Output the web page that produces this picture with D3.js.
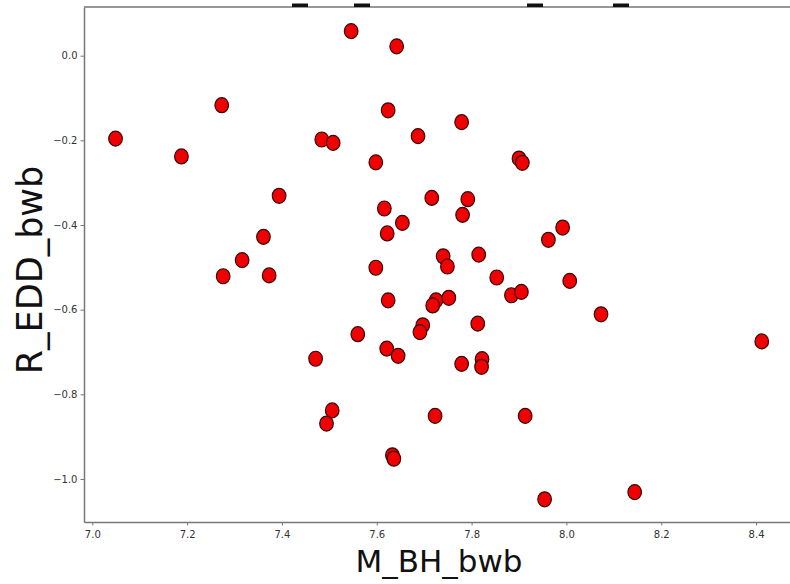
<!DOCTYPE html>
<html>
<head>
<meta charset="utf-8">
<script src="https://cdn.jsdelivr.net/npm/d3@7"></script>
<style>
  body { margin: 0; background: #fff; }
  svg { display: block; font-family: "DejaVu Sans", sans-serif; }
</style>
</head>
<body>
<svg id="scatter"></svg>
<script>
const width = 790;
const height = 584;

// M_BH_bwb values
const mBH = [
  7.049, 7.273, 7.188, 7.394, 7.361, 7.316, 7.484, 7.546, 7.642, 7.624,
  7.779, 7.508, 7.687, 7.598, 7.900, 7.907, 7.716, 7.792, 7.616, 7.781,
  7.654, 7.622, 7.962, 7.992, 7.740, 7.749, 7.815, 7.598, 7.853, 7.884,
  7.905, 7.624, 7.725, 7.718, 7.752, 7.813, 7.560, 7.697, 7.691, 7.621,
  7.645, 7.779, 7.822, 7.821, 7.506, 7.494, 7.723, 7.913, 7.633, 7.636,
  7.954, 7.276, 7.373, 7.471, 8.007, 8.073, 8.412, 8.144,
];

// R_EDD_bwb values, same order
const rEDD = [
  -0.196, -0.117, -0.238, -0.331, -0.428, -0.483, -0.198, 0.058, 0.022, -0.129,
  -0.157, -0.206, -0.19, -0.252, -0.243, -0.253, -0.336, -0.339, -0.361, -0.376,
  -0.395, -0.42, -0.435, -0.406, -0.474, -0.498, -0.47, -0.501, -0.524, -0.566,
  -0.558, -0.578, -0.578, -0.59, -0.572, -0.633, -0.658, -0.637, -0.653, -0.692,
  -0.709, -0.728, -0.717, -0.735, -0.838, -0.869, -0.851, -0.851, -0.944, -0.952,
  -1.048, -0.521, -0.519, -0.716, -0.532, -0.611, -0.675, -1.031,
];

const xTicks = [7.0, 7.2, 7.4, 7.6, 7.8, 8.0, 8.2, 8.4];
const yTicks = [-1.0, -0.8, -0.6, -0.4, -0.2, 0.0];

const points = mBH.map((m, i) => ({ m: m, r: rEDD[i] }));

const svg = d3
  .select("#scatter")
  .attr("width", width)
  .attr("height", height);

svg.append("rect").attr("width", width).attr("height", height).attr("fill", "#fff");

// axes box runs past the right edge of the picture
const xScale = d3.scaleLinear().domain([6.9825, 8.48]).range([84, 794]);
const yScale = d3.scaleLinear().domain([-1.1016, 0.115]).range([522, 7]);

// top spine + the small dark bits sitting on it
svg
  .append("line")
  .attr("x1", 84)
  .attr("x2", width)
  .attr("y1", 7)
  .attr("y2", 7)
  .attr("stroke", "#333")
  .attr("stroke-width", 1);

svg
  .selectAll("rect.topmark")
  .data([292, 354, 527, 613])
  .enter()
  .append("rect")
  .attr("class", "topmark")
  .attr("x", (d) => d)
  .attr("y", 3.5)
  .attr("width", 16)
  .attr("height", 3.5)
  .attr("fill", "#111");

// x-axis
const xAxis = d3
  .axisBottom(xScale)
  .tickValues(xTicks)
  .tickFormat(d3.format(".1f"))
  .tickSizeInner(3.5)
  .tickSizeOuter(0);

const gx = svg
  .append("g")
  .attr("transform", `translate(0, ${yScale.range()[0]})`)
  .call(xAxis);

// y-axis
const yAxis = d3
  .axisLeft(yScale)
  .tickValues(yTicks)
  .tickFormat(d3.format(".1f"))
  .tickSizeInner(3.5)
  .tickSizeOuter(0);

const gy = svg
  .append("g")
  .attr("transform", `translate(${xScale.range()[0]}, 0)`)
  .call(yAxis);

[gx, gy].forEach((g) => {
  g.select(".domain").attr("stroke", "#777").attr("stroke-width", 1.5);
  g.selectAll(".tick line").attr("stroke", "#777");
  g.selectAll(".tick text")
    .attr("fill", "#333")
    .style("font-size", "10px")
    .style("font-family", "DejaVu Sans, sans-serif");
});
gx.selectAll(".tick text").attr("dy", "0.95em");

// points
svg
  .append("g")
  .selectAll("ellipse")
  .data(points)
  .enter()
  .append("ellipse")
  .attr("cx", (d) => xScale(d.m))
  .attr("cy", (d) => yScale(d.r))
  .attr("rx", 6.8)
  .attr("ry", 7.5)
  .attr("fill", "#f00000")
  .attr("stroke", "#3a0808")
  .attr("stroke-width", 1.2);

// axis labels
svg
  .append("text")
  .attr("x", 439)
  .attr("y", 572)
  .attr("text-anchor", "middle")
  .style("font-size", "31px")
  .attr("fill", "#111")
  .text("M_BH_bwb");

svg
  .append("text")
  .attr("transform", "translate(42, 270) rotate(-90)")
  .attr("text-anchor", "middle")
  .style("font-size", "35px")
  .attr("fill", "#111")
  .text("R_EDD_bwb");
</script>
</body>
</html>
